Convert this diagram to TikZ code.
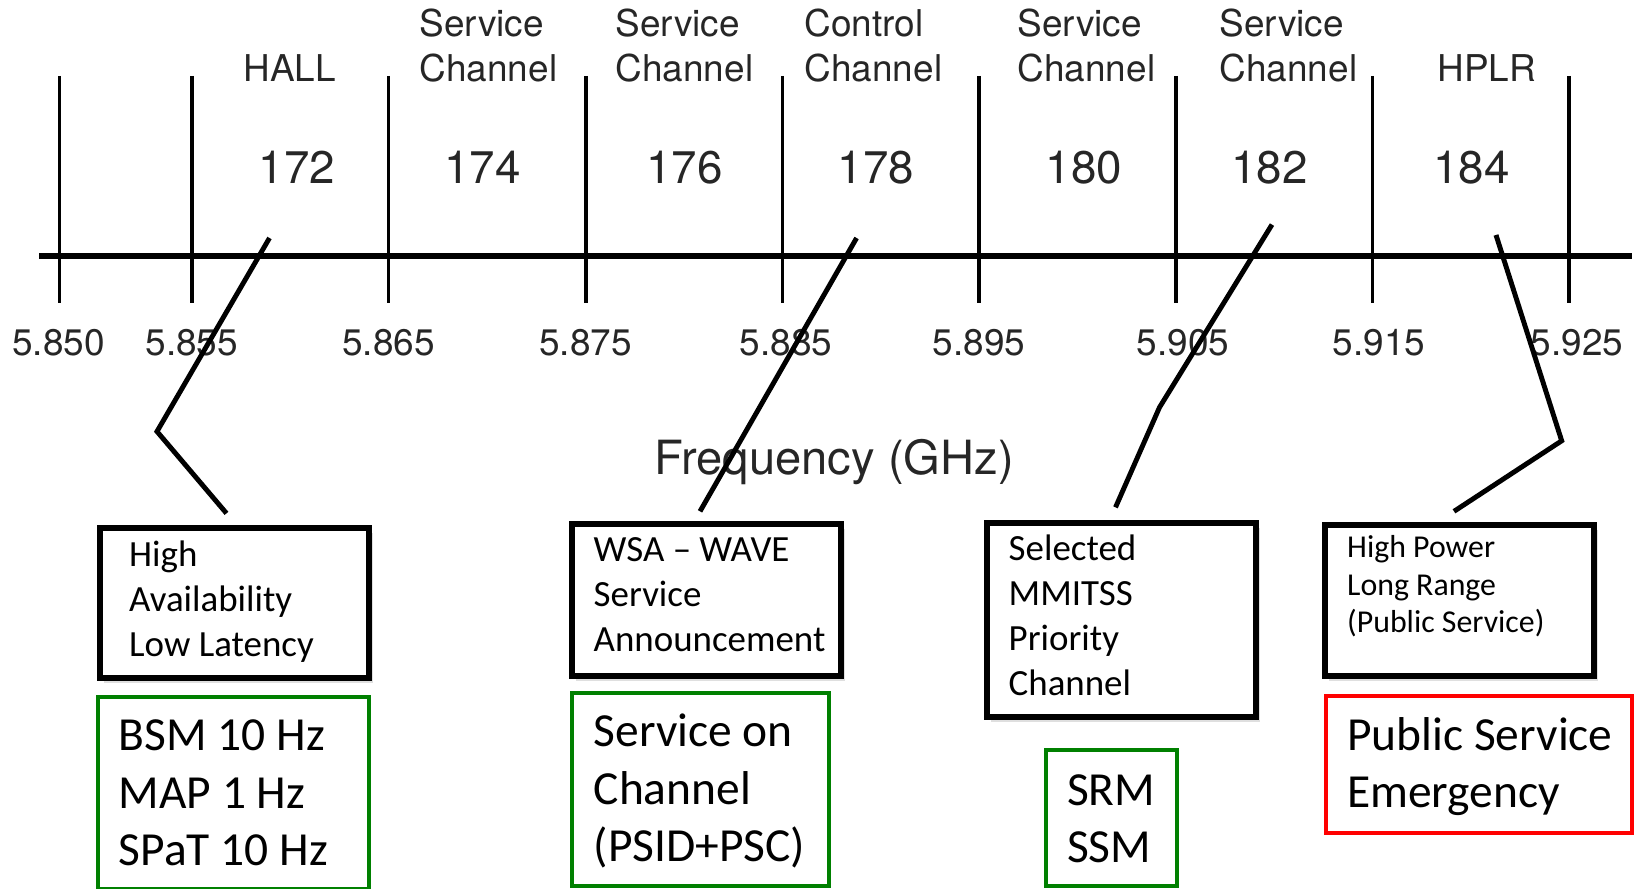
\documentclass[tikz,border=0pt]{standalone}
\usepackage{fontspec}
\setmainfont{TeX Gyre Heros}
\newfontfamily\calibri{Carlito}
\usetikzlibrary{fit,calc,shadows}
\definecolor{msggreen}{RGB}{0,128,0}
\definecolor{msgred}{RGB}{255,0,0}

\begin{document}
\begin{tikzpicture}[x=0.01cm, y=-0.01cm,
  toplabel/.style={anchor=base west, inner sep=0pt, align=left, text=black!85,
    font=\fontsize{10.5}{12.8}\selectfont},
  chnum/.style={anchor=base, inner sep=0pt, text=black!85, font=\fontsize{13}{15}\selectfont},
  ticklabel/.style={anchor=base, inner sep=0pt, text=black!85, font=\fontsize{10.5}{12.8}\selectfont},
  blackbox/.style={draw=black, line width=1.5pt, inner sep=0pt, fill=white,
    drop shadow={shadow xshift=1pt, shadow yshift=-1.5pt, opacity=0.25}},
  msgbox/.style={draw=#1, line width=1.3pt, inner sep=0pt},
  boxtext/.style={anchor=base west, inner sep=0pt, align=left, font=\calibri\fontsize{10.5}{12.8}\selectfont},
  smalltext/.style={boxtext, font=\calibri\fontsize{9.05}{10.8}\selectfont},
  msgtext/.style={boxtext, font=\calibri\fontsize{13.5}{16.4}\selectfont},
  callout/.style={line width=1.4pt}]
  \useasboundingbox (0,0) rectangle (1638,889);

  % frequency axis
  \draw[line width=1.7pt] (39,256) -- (1632,256);
  \foreach \x/\lx/\f [count=\i] in {59.5/58.5/5.850, 192/191.7/5.855, 388.6/388.6/5.865,
      586/585.5/5.875, 782.4/786/5.885, 978.8/979/5.895, 1176.2/1183/5.905,
      1372.6/1379/5.915, 1569/1577/5.925}{
    \draw[line width=1.05pt] (\x,76) -- (\x,303);
    \node[ticklabel] (f\i) at (\lx,356) {\f};
  }
  \node[chnum, font=\fontsize{13.4}{16}\selectfont] (freq) at (834,475) {Frequency (GHz)};

  % channel numbers and names
  \foreach \x/\n in {297/172, 482.6/174, 684.7/176, 876/178, 1083.8/180, 1269.7/182, 1471.3/184}
    \node[chnum] (ch\n) at (\x,184) {\n};
  \node[toplabel] (hall) at (243,82) {HALL};
  \node[toplabel] (sc174) at (419,82) {Service\\Channel};
  \node[toplabel] (sc176) at (615,82) {Service\\Channel};
  \node[toplabel] (cc178) at (804,82) {Control\\Channel};
  \node[toplabel] (sc180) at (1017,82) {Service\\Channel};
  \node[toplabel] (sc182) at (1219,82) {Service\\Channel};
  \node[toplabel] (hplr) at (1437,82) {HPLR};

  % description boxes
  \node[blackbox, fit={(100,528) (369,678)}] (hallbox) {};
  \node[boxtext] (halltext) at (128.5,657) {High\\Availability\\Low Latency};
  \node[blackbox, fit={(572,524) (841,676)}] (wsabox) {};
  \node[boxtext] (wsatext) at (593,652) {WSA – WAVE\\Service\\Announcement};
  \node[blackbox, fit={(987,523) (1256,717)}] (prbox) {};
  \node[boxtext] (prtext) at (1008,696) {Selected\\MMITSS\\Priority\\Channel};
  \node[blackbox, fit={(1325,525) (1594,676)}] (hplrbox) {};
  \node[smalltext] (hplrtext) at (1346.5,633) {High Power\\Long Range\\(Public Service)};

  % message boxes
  \node[msgbox=msggreen, fit={(98,697) (369,889)}] (bsmbox) {};
  \node[msgtext] (bsmtext) at (118,866) {BSM 10 Hz\\MAP 1 Hz\\SPaT 10 Hz};
  \node[msgbox=msggreen, fit={(572,693) (829,886)}] (svcbox) {};
  \node[msgtext] (svctext) at (593,862) {Service on\\Channel\\(PSID+PSC)};
  \node[msgbox=msggreen, fit={(1046,750) (1177,886)}] (srmbox) {};
  \node[msgtext] (srmtext) at (1066.5,863) {SRM\\SSM};
  \node[msgbox=msgred, fit={(1326,696) (1632,833)}] (psbox) {};
  \node[msgtext] (pstext) at (1346.5,808) {Public Service\\Emergency};

  % callouts
  \coordinate (a172) at (269.5,238);
  \coordinate (b172) at (157,431.5);
  \coordinate (a178) at (856.6,238);
  \coordinate (a182) at (1272,224.6);
  \coordinate (b182) at (1159.5,407.4);
  \coordinate (a184) at (1496,235);
  \coordinate (b184) at (1561.7,440.8);
  \draw[callout] (a172) -- (b172) -- ($(hallbox.north)+(-8,-12)$);
  \draw[callout] (a178) -- ($(wsabox.north)+(-6.5,-10)$);
  \draw[callout] (a182) -- (b182) -- ($(prbox.north)+(-6,-13)$);
  \draw[callout] (a184) -- (b184) -- ($(hplrbox.north)+(-5.5,-11)$);
\end{tikzpicture}
\end{document}
